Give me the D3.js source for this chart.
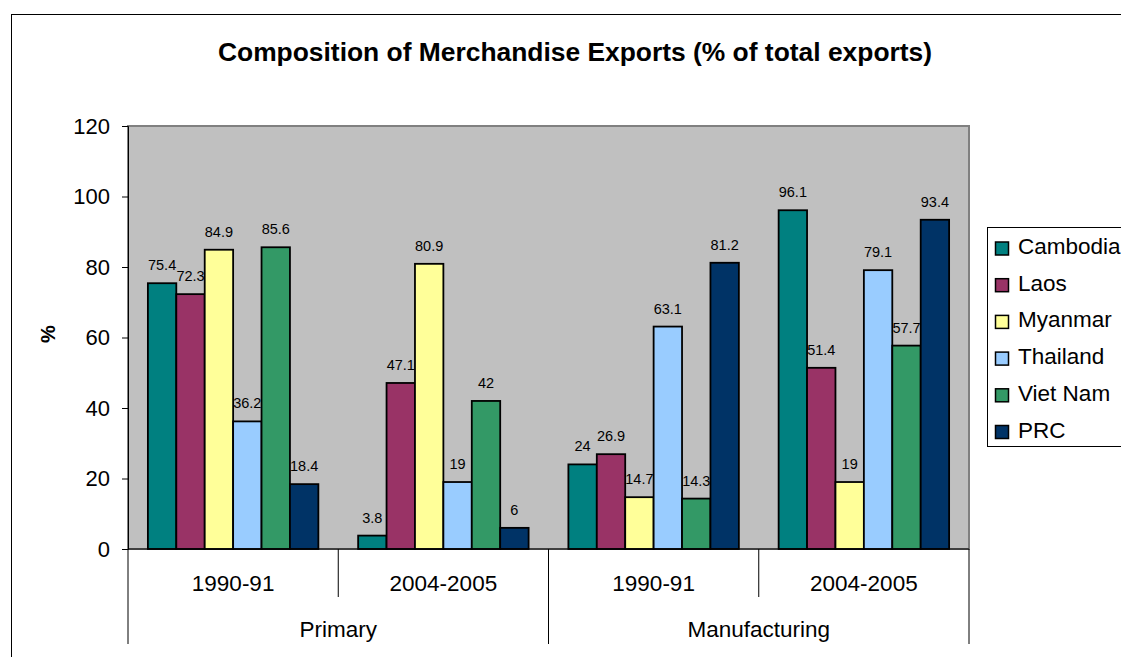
<!DOCTYPE html>
<html>
<head>
<meta charset="utf-8">
<script src="https://cdn.jsdelivr.net/npm/d3@7"></script>
<style>
  body { margin: 0; background: #fff; }
  svg { display: block; font-family: "Liberation Sans", Arial, sans-serif; }
</style>
</head>
<body>
<svg id="chart" width="1121" height="657"></svg>
<script>
var sectors = ["Primary", "Manufacturing"];
var periods = ["1990-91", "2004-2005"];
var countries = ["Cambodia", "Laos", "Myanmar", "Thailand", "Viet Nam", "PRC"];
var colors = ["#008080", "#993366", "#FFFF99", "#99CCFF", "#339966", "#003366"];
// values per sector/period group, in country order
var primary9091 = [75.4, 72.3, 84.9, 36.2, 85.6, 18.4];
var primary0405 = [3.8, 47.1, 80.9, 19, 42, 6];
var manuf9091 = [24, 26.9, 14.7, 63.1, 14.3, 81.2];
var manuf0405 = [96.1, 51.4, 19, 79.1, 57.7, 93.4];
var yTicks = [0, 20, 40, 60, 80, 100, 120];

var groups = [
  {sector: sectors[0], period: periods[0], values: primary9091},
  {sector: sectors[0], period: periods[1], values: primary0405},
  {sector: sectors[1], period: periods[0], values: manuf9091},
  {sector: sectors[1], period: periods[1], values: manuf0405}
];

var PLOT = {left: 128, right: 969, top: 126, bottom: 549};

var svg = d3.select("#chart");

// outer chart frame (clipped by the window on right/bottom)
svg.append("rect")
    .attr("x", 11.5).attr("y", 14.5)
    .attr("width", 1200).attr("height", 700)
    .attr("fill", "none").attr("stroke", "#000").attr("stroke-width", 1);

// title
svg.append("text")
    .attr("x", 575).attr("y", 61)
    .attr("text-anchor", "middle")
    .style("font-size", "26.4px").style("font-weight", "bold")
    .text("Composition of Merchandise Exports (% of total exports)");

var x0 = d3.scaleBand()
    .domain(d3.range(groups.length))
    .range([PLOT.left, PLOT.right]);
var x1 = d3.scaleBand()
    .domain(countries)
    .range([0, x0.bandwidth()])
    .paddingOuter(0.7);
var y = d3.scaleLinear()
    .domain([0, 120])
    .range([PLOT.bottom, PLOT.top]);

// plot area
svg.append("rect")
    .attr("x", PLOT.left).attr("y", PLOT.top)
    .attr("width", PLOT.right - PLOT.left).attr("height", PLOT.bottom - PLOT.top)
    .attr("fill", "#C0C0C0").attr("stroke", "#808080").attr("stroke-width", 2);

// y axis
var yAxis = svg.append("g")
    .attr("transform", "translate(" + PLOT.left + ",0)")
    .call(d3.axisLeft(y).tickValues(yTicks).tickSize(6).tickPadding(12));
yAxis.select(".domain").attr("stroke", "#000");
yAxis.selectAll("text").style("font-size", "22px").attr("fill", "#000");

svg.append("text")
    .attr("transform", "translate(55,334) rotate(-90)")
    .attr("text-anchor", "middle")
    .style("font-size", "20px").style("font-weight", "bold")
    .text("%");

// bars, drawn series by series so later bars cover earlier labels
countries.forEach(function(c, ci) {
  var s = svg.append("g").attr("class", "series");
  s.selectAll("rect")
      .data(groups).enter().append("rect")
      .attr("x", function(d, gi) { return x0(gi) + x1(c); })
      .attr("y", function(d) { return y(d.values[ci]); })
      .attr("width", x1.bandwidth())
      .attr("height", function(d) { return y(0) - y(d.values[ci]); })
      .attr("fill", colors[ci])
      .attr("stroke", "#000").attr("stroke-width", 1.8);
  s.selectAll("text")
      .data(groups).enter().append("text")
      .attr("x", function(d, gi) { return x0(gi) + x1(c) + x1.bandwidth() / 2; })
      .attr("y", function(d) { return y(d.values[ci]) - 13; })
      .attr("text-anchor", "middle")
      .style("font-size", "14.5px")
      .text(function(d) { return d.values[ci]; });
});

// category axis: baseline, dividers, labels
svg.append("line")
    .attr("x1", PLOT.left).attr("x2", PLOT.right)
    .attr("y1", PLOT.bottom).attr("y2", PLOT.bottom)
    .attr("stroke", "#000");

d3.range(groups.length + 1).forEach(function(i) {
  var xx = i < groups.length ? x0(i) : PLOT.right;
  var outer = (i % 2 === 0);
  svg.append("line")
      .attr("x1", xx).attr("x2", xx)
      .attr("y1", PLOT.bottom).attr("y2", outer ? 644 : 597)
      .attr("stroke", "#000");
});

svg.selectAll(".period")
    .data(groups).enter().append("text")
    .attr("x", function(d, i) { return x0(i) + x0.bandwidth() / 2; })
    .attr("y", 590.5)
    .attr("text-anchor", "middle")
    .style("font-size", "22.5px")
    .text(function(d) { return d.period; });

svg.selectAll(".sector")
    .data(sectors).enter().append("text")
    .attr("x", function(d, i) { return x0(i * 2) + x0.bandwidth(); })
    .attr("y", 637)
    .attr("text-anchor", "middle")
    .style("font-size", "22.5px")
    .text(function(d) { return d; });

// legend
var legend = svg.append("g").attr("transform", "translate(987,227)");
legend.append("rect")
    .attr("x", 0.5).attr("y", 0.5).attr("width", 200).attr("height", 219)
    .attr("fill", "#fff").attr("stroke", "#000");
var item = legend.selectAll(".item")
    .data(countries).enter().append("g")
    .attr("transform", function(d, i) { return "translate(0," + (27 + i * 36.7) + ")"; });
item.append("rect")
    .attr("x", 8.5).attr("y", -12).attr("width", 13).attr("height", 13)
    .attr("fill", function(d, i) { return colors[i]; })
    .attr("stroke", "#000").attr("stroke-width", 1.5);
item.append("text")
    .attr("x", 31).attr("y", 0)
    .style("font-size", "22.5px")
    .text(function(d) { return d; });
</script>
</body>
</html>
